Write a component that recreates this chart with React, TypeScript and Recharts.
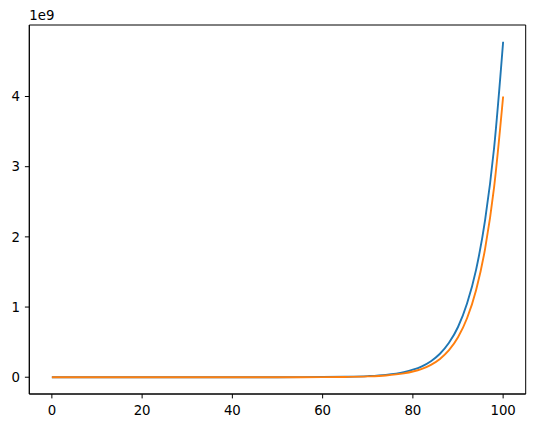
import { LineChart, Line, XAxis, YAxis, ReferenceArea } from "recharts";

// x positions sampled along the curves
const xs = [0, 10, 20, 30, 40, 50, 60, 65, 70, 74, 78, 80, 82, 84, 86, 88, 90, 92, 94, 96, 98, 100];
// values, in units of 1e9
const blueValues = [0, 0, 0, 0, 0, 0.0005, 0.0024, 0.0062, 0.016, 0.034, 0.073, 0.107, 0.156, 0.229, 0.335, 0.49, 0.716, 1.05, 1.53, 2.24, 3.27, 4.78];
const orangeValues = [0, 0, 0, 0, 0, 0.0003, 0.0016, 0.0043, 0.0115, 0.025, 0.055, 0.081, 0.12, 0.177, 0.261, 0.385, 0.569, 0.84, 1.24, 1.83, 2.71, 4.0];

const xTicks = [0, 20, 40, 60, 80, 100];
const yTicks = [0, 1, 2, 3, 4];

const xDomain = [-5, 105];
const yDomain = [-0.239e9, 5.019e9];

const data = xs.map((x, i) => ({
  x,
  blue: blueValues[i] * 1e9,
  orange: orangeValues[i] * 1e9,
}));

const font = { fontFamily: "DejaVu Sans", fontSize: 13.3, fill: "#000" };

export default function App() {
  return (
    <div style={{ position: "absolute", left: 0, top: 0, width: 534, height: 428, background: "#fff" }}>
      <LineChart width={534} height={428} data={data} margin={{ top: 25, right: 8.3, bottom: 0, left: 0 }}>
        <XAxis
          dataKey="x"
          type="number"
          domain={xDomain}
          ticks={xTicks}
          height={34}
          tick={font}
          tickSize={4.4}
          tickMargin={7}
          tickLine={{ stroke: "#000" }}
          axisLine={{ stroke: "#000" }}
          allowDataOverflow
        />
        <YAxis
          type="number"
          domain={yDomain}
          ticks={yTicks.map((t) => t * 1e9)}
          tickFormatter={(v) => String(Math.round(v / 1e9))}
          width={29.3}
          tick={font}
          tickSize={4.4}
          tickMargin={5}
          tickLine={{ stroke: "#000" }}
          axisLine={{ stroke: "#000" }}
          allowDataOverflow
        />
        <ReferenceArea
          x1={xDomain[0]}
          x2={xDomain[1]}
          y1={yDomain[0]}
          y2={yDomain[1]}
          fill="none"
          stroke="#000"
          strokeWidth={1}
          fillOpacity={0}
          ifOverflow="visible"
        />
        <Line
          type="monotone"
          dataKey="blue"
          stroke="#1f77b4"
          strokeWidth={1.9}
          dot={false}
          isAnimationActive={false}
        />
        <Line
          type="monotone"
          dataKey="orange"
          stroke="#ff7f0e"
          strokeWidth={1.9}
          dot={false}
          isAnimationActive={false}
        />
      </LineChart>
      <div
        style={{
          position: "absolute",
          left: 29.3,
          top: 8.7,
          fontFamily: "DejaVu Sans",
          fontSize: 13.3,
          lineHeight: 1,
          color: "#000",
        }}
      >
        1e9
      </div>
    </div>
  );
}
